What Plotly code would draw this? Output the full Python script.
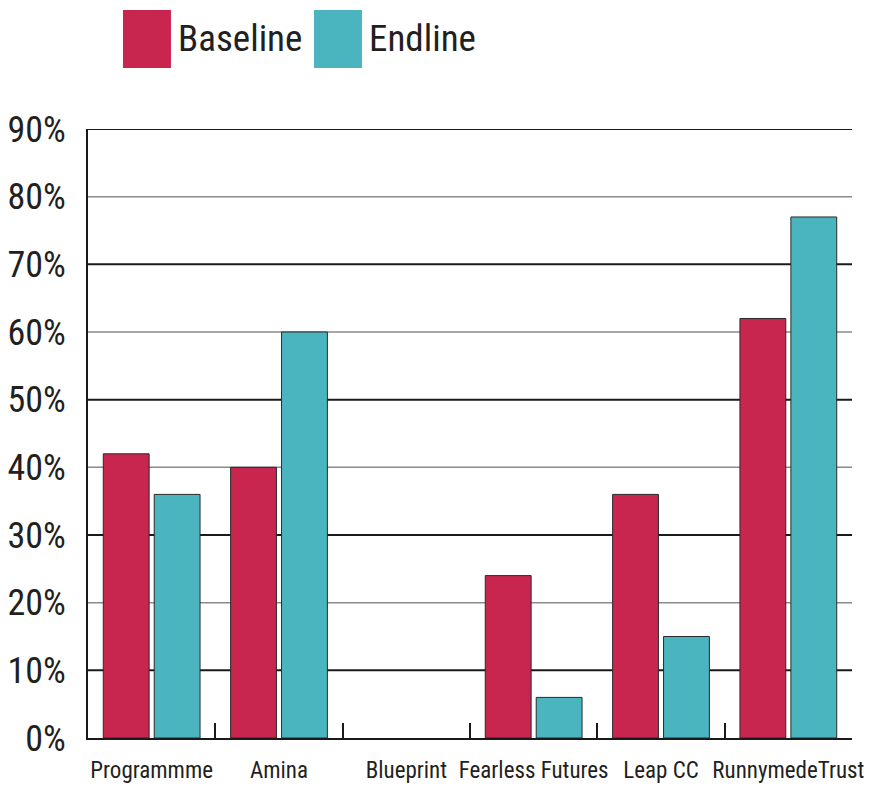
import plotly.graph_objects as go

categories = ["Programmme", "Amina", "Blueprint", "Fearless Futures", "Leap CC", "RunnymedeTrust"]
series_names = ["Baseline", "Endline"]
baseline = [42, 40, 0, 24, 36, 62]
endline = [36, 60, 0, 6, 15, 77]
y_ticks = [0, 10, 20, 30, 40, 50, 60, 70, 80, 90]
colors = ["#C8264F", "#4AB5BE"]

FONT = "Liberation Sans Narrow, Arial Narrow, Roboto Condensed, Liberation Sans, sans-serif"
TXT = "#231f20"

fig = go.Figure()
for name, vals, col in zip(series_names, [baseline, endline], colors):
    fig.add_trace(go.Bar(
        x=categories, y=vals, name=name,
        marker=dict(color=col,
                    line=dict(color="#2a2a2a", width=[0 if v == 0 else 1 for v in vals])),
        showlegend=False,
    ))

# gridlines: heavier dark at odd tens, lighter gray at even tens
for v in y_ticks[1:]:
    if v % 20 == 10:
        ln = dict(color="#1a1a1a", width=2)
    else:
        ln = dict(color="#8a8a8a", width=1.5)
    fig.add_shape(type="line", xref="paper", x0=0, x1=1, yref="y", y0=v, y1=v,
                  line=ln, layer="below")

# manual legend
legend_pos = [(0.0458, 0.1086), (0.2958, 0.3586)]
for (x0, x1), name, col in zip(legend_pos, series_names, colors):
    fig.add_shape(type="rect", xref="paper", yref="paper", x0=x0, x1=x1,
                  y0=1.1002, y1=1.1954, fillcolor=col, line=dict(width=0))
    fig.add_annotation(xref="paper", yref="paper", x=x1 + 0.007, y=1.1478,
                       xanchor="left", yanchor="middle", text=name, showarrow=False,
                       font=dict(family=FONT, size=37, color=TXT))

fig.update_layout(
    width=871, height=787,
    margin=dict(l=88, r=19, t=129, b=49, autoexpand=False),
    paper_bgcolor="white", plot_bgcolor="white",
    bargap=0.2, bargroupgap=0.1, barmode="group",
    font=dict(family=FONT, color=TXT),
)
fig.update_xaxes(
    showline=True, linecolor="#1a1a1a", linewidth=2,
    ticks="inside", tickson="boundaries", ticklen=15, tickwidth=2, tickcolor="#1a1a1a",
    tickfont=dict(family=FONT, size=23, color=TXT), tickangle=0, automargin=False,
    ticklabelstandoff=10, showgrid=False,
)
fig.update_yaxes(
    range=[0, 90], tickvals=y_ticks, ticktext=[f"{v}%" for v in y_ticks],
    showline=True, linecolor="#1a1a1a", linewidth=2,
    showgrid=False, automargin=False,
    zeroline=False, ticks="", ticklabelstandoff=13,
    tickfont=dict(family=FONT, size=36, color=TXT),
)

fig.write_html("out.html")
